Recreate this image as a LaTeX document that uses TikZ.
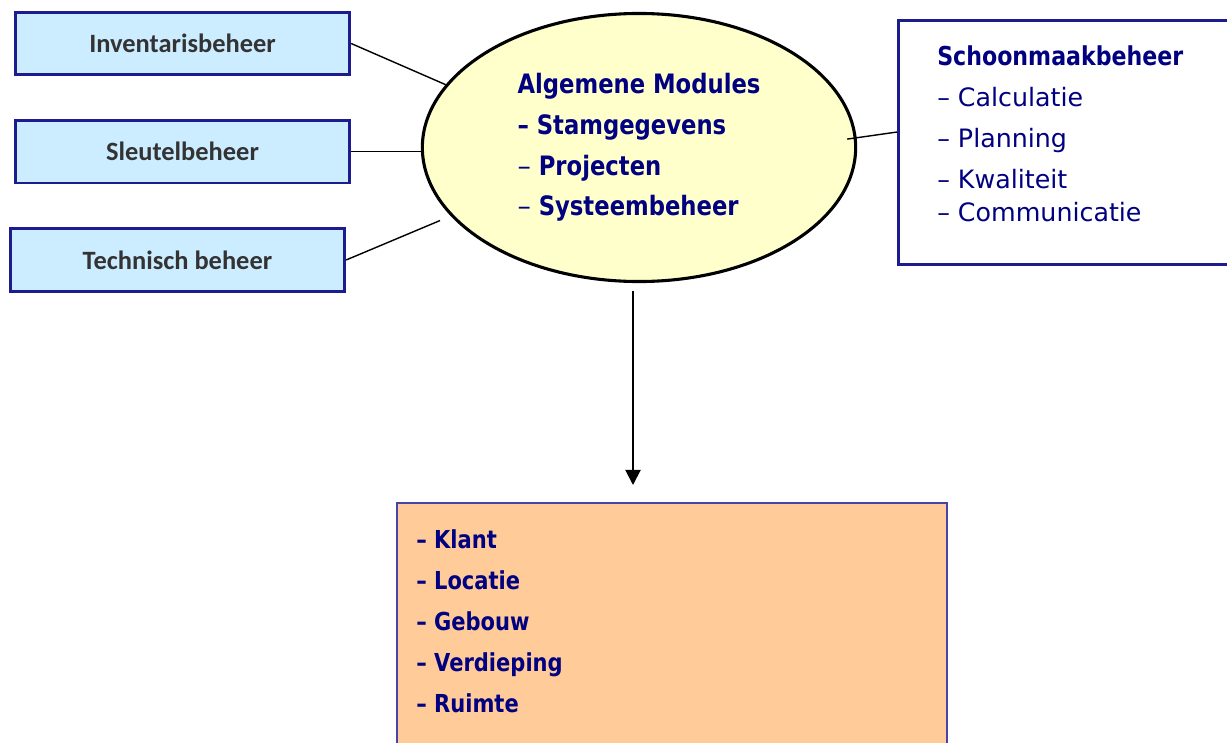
\documentclass[tikz,border=0pt]{standalone}
\usepackage{fontspec}
\usepackage{xcolor}
\usetikzlibrary{arrows.meta,positioning,shapes.geometric}
\newfontfamily\lgfont[BoldFeatures={FakeStretch=0.85}]{DejaVu Sans}
\newfontfamily\cbfont{Carlito}
\definecolor{boxblue}{HTML}{CCECFF}
\definecolor{navyline}{HTML}{1C1C8E}
\definecolor{navytext}{HTML}{000080}
\definecolor{ellfill}{HTML}{FFFFCC}
\definecolor{objfill}{HTML}{FFCC99}
\definecolor{objline}{HTML}{4444AA}
\definecolor{graytext}{HTML}{333333}

\begin{document}
\begin{tikzpicture}[
  x=0.025cm, y=-0.025cm,
  module/.style={rectangle,draw=navyline,line width=2pt,fill=boxblue,minimum width=8.36cm,minimum height=1.56cm,text=graytext,font=\cbfont\bfseries\fontsize{18.8pt}{22pt}\selectfont},
  hub/.style={ellipse,draw=black,line width=2.2pt,fill=ellfill,minimum width=10.83cm,minimum height=6.7cm,inner sep=0pt,align=left,text=navytext,font=\lgfont\bfseries\fontsize{19pt}{29pt}\selectfont},
  panel/.style={rectangle,draw=navyline,line width=2pt,fill=white,minimum width=9cm,minimum height=6.1cm},
  target/.style={rectangle,draw=objline,line width=1.4pt,fill=objfill,minimum width=13.75cm,minimum height=6.5cm},
  listtext/.style={inner sep=0pt,align=left,text=navytext},
  link/.style={line width=1pt},
  arrow/.style={-{Triangle[length=3.8mm,width=3.8mm]},line width=1.4pt}
]
  \clip (0,0) rectangle (1227,742);

  % modules on the left
  \node[module] (inv) at (182.5,43.5) {Inventarisbeheer};
  \node[module,below=1.075cm of inv] (sleutel) {Sleutelbeheer};
  \node[module,below=1.075cm of sleutel,xshift=-0.125cm] (techn) {Technisch beheer};

  % central ellipse
  \node[hub] (mods) at (639,147.5) {Algemene Modules\\
    – Stamgegevens\\
    {\mdseries –} Projecten\\
    {\mdseries –} Systeembeheer};

  % right panel
  \node[panel,anchor=north west] (schoon) at (897,19) {};
  \node[listtext,anchor=north west,font=\lgfont\fontsize{18pt}{29.2pt}\selectfont] (schoontxt)
    at ([xshift=1cm,yshift=-0.655cm]schoon.north west)
    {{\bfseries\fontsize{18.5pt}{29.2pt}\selectfont Schoonmaakbeheer}\\
     – Calculatie\\
     – Planning\\
     – Kwaliteit\\[-5.7pt]
     – Communicatie};

  % bottom box
  \node[target,anchor=north west] (objs) at (396,502) {};
  \node[listtext,anchor=north west,font=\lgfont\bfseries\fontsize{17.6pt}{29.2pt}\selectfont] (objtxt)
    at ([xshift=0.5cm,yshift=-0.68cm]objs.north west)
    {– Klant\\
     – Locatie\\
     – Gebouw\\
     – Verdieping\\
     – Ruimte};

  \draw[link] (inv.east) -- (mods.162);
  \draw[link] (sleutel.east) -- (sleutel.east -| mods.west);
  \draw[link,shorten >=0.29cm] (techn.east) -- (mods.200);
  \draw[link] ([yshift=0.26cm]schoon.west) -- ([xshift=-0.25cm,yshift=0.21cm]mods.east);

  \coordinate (ax) at (633,0);
  \draw[arrow,shorten <=0.2cm,shorten >=0.425cm] (mods.south -| ax) -- (objs.north -| ax);
\end{tikzpicture}
\end{document}
